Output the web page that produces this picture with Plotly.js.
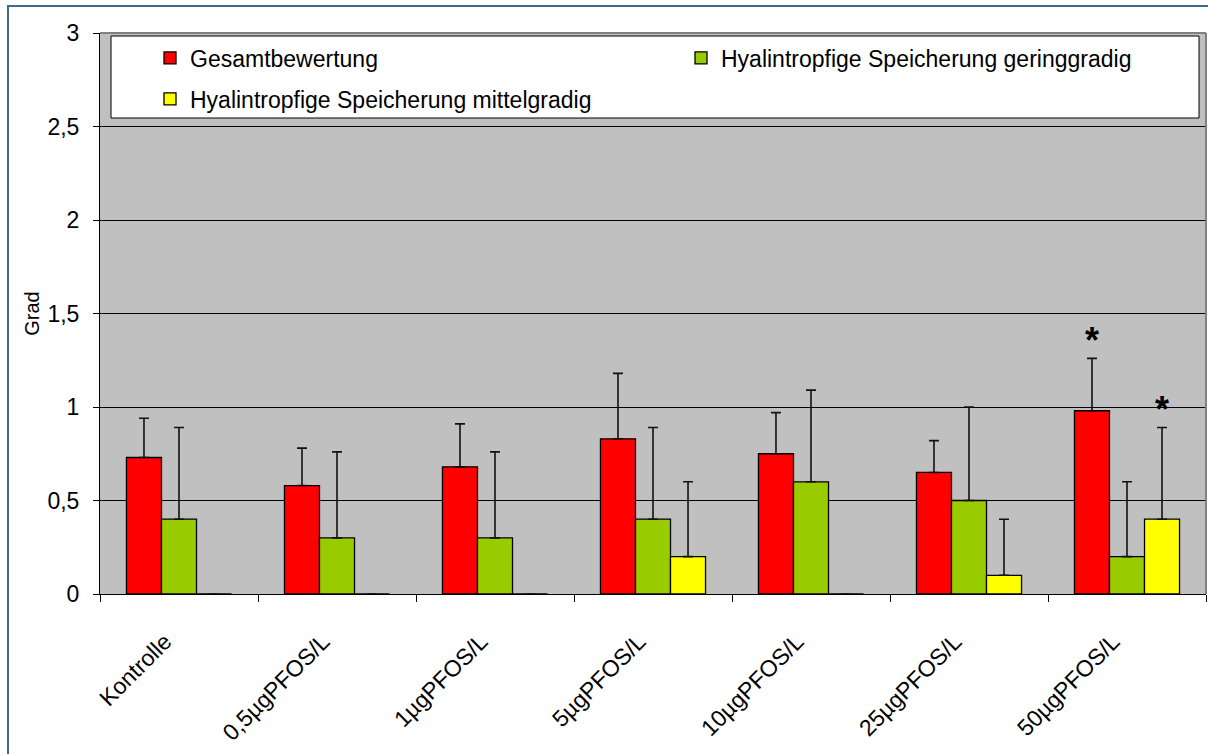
<!DOCTYPE html>
<html>
<head>
<meta charset="utf-8">
<script src="https://cdn.plot.ly/plotly-3.0.1.min.js"></script>
<style>
  html, body { margin: 0; padding: 0; background: #ffffff; }
  #chart { width: 1208px; height: 754px; }
</style>
</head>
<body>
<div id="chart"></div>
<script>
// ---- data ----
var categories = ['Kontrolle', '0,5µgPFOS/L', '1µgPFOS/L', '5µgPFOS/L', '10µgPFOS/L', '25µgPFOS/L', '50µgPFOS/L'];

var seriesNames = ['Gesamtbewertung', 'Hyalintropfige Speicherung geringgradig', 'Hyalintropfige Speicherung mittelgradig'];

var gesamt      = [0.73, 0.58, 0.68, 0.83, 0.75, 0.65, 0.98];
var gesamtTop   = [0.94, 0.78, 0.91, 1.18, 0.97, 0.82, 1.26];   // upper end of error bar

var gering      = [0.40, 0.30, 0.30, 0.40, 0.60, 0.50, 0.20];
var geringTop   = [0.89, 0.76, 0.76, 0.89, 1.09, 1.00, 0.60];

var mittel      = [0.00, 0.00, 0.00, 0.20, 0.00, 0.10, 0.40];
var mittelTop   = [0.00, 0.00, 0.00, 0.60, 0.00, 0.40, 0.89];

// significance markers per series
var gesamtSig   = ['', '', '', '', '', '', '*'];
var geringSig   = ['', '', '', '', '', '', ''];
var mittelSig   = ['', '', '', '', '', '', '*'];

var yTickVals = [0, 0.5, 1, 1.5, 2, 2.5, 3];
var yTickText = ['0', '0,5', '1', '1,5', '2', '2,5', '3'];

var colors = ['#FF0000', '#99CC00', '#FFFF00'];

// ---- build ----
function plus(vals, tops) { return vals.map(function (v, i) { return Math.max(0, tops[i] - v); }); }
function zeros(n) { var a = []; for (var i = 0; i < n; i++) a.push(0); return a; }

var valueSets = [gesamt, gering, mittel];
var topSets = [gesamtTop, geringTop, mittelTop];
var sigSets = [gesamtSig, geringSig, mittelSig];
var legendIds = ['legend', 'legend2', 'legend3'];

var FONT = 'Liberation Sans, Arial, sans-serif';

var traces = valueSets.map(function (vals, k) {
  return {
    type: 'bar',
    name: seriesNames[k],
    x: categories,
    y: vals,
    legend: legendIds[k],
    marker: { color: colors[k], line: { color: '#000000', width: 1.3 } },
    error_y: {
      type: 'data', symmetric: false,
      array: plus(vals, topSets[k]),
      arrayminus: zeros(vals.length),
      color: '#111111', thickness: 1.6, width: 5
    },
    hoverinfo: 'x+y+name'
  };
});

var barPx = 35; // pixel offset between grouped bars
var annotations = [];
sigSets.forEach(function (sig, k) {
  sig.forEach(function (s, i) {
    if (s) {
      annotations.push({
        x: categories[i], y: topSets[k][i], xref: 'x', yref: 'y',
        text: s, showarrow: false,
        xshift: (k - 1) * barPx, yshift: 18,
        xanchor: 'center', yanchor: 'middle',
        font: { family: FONT, size: 36, color: '#000000', weight: 'bold' }
      });
    }
  });
});

// pixel helpers for paper coordinates
var L = 100, R = 1206, T = 33, B = 594;
function px(x) { return (x - L) / (R - L); }
function py(y) { return (B - y) / (B - T); }

var shapes = [
  // outer frame
  { type: 'rect', xref: 'paper', yref: 'paper', x0: px(8), x1: px(1240), y0: py(790), y1: py(6),
    line: { color: '#3E6A86', width: 2 }, fillcolor: 'rgba(0,0,0,0)', layer: 'below' },
  // plot area top & right border (grey)
  { type: 'line', xref: 'paper', yref: 'paper', x0: 0, x1: 1, y0: 1, y1: 1, line: { color: '#808080', width: 2 } },
  { type: 'line', xref: 'paper', yref: 'paper', x0: 1, x1: 1, y0: 0, y1: 1, line: { color: '#808080', width: 2 } },
  // legend box
  { type: 'rect', xref: 'paper', yref: 'paper', x0: px(111), x1: px(1199), y0: py(118), y1: py(36),
    line: { color: '#000000', width: 1 }, fillcolor: '#FFFFFF', layer: 'above' }
];

var legendFont = { family: FONT, size: 23, color: '#000000' };
function legendAt(xp, yp) {
  return { x: px(xp), y: py(yp), xref: 'paper', yref: 'paper', xanchor: 'left', yanchor: 'middle',
           bgcolor: 'rgba(0,0,0,0)', borderwidth: 0, font: legendFont, orientation: 'v' };
}

var layout = {
  width: 1208, height: 754,
  margin: { l: L, r: 1208 - R, t: T, b: 754 - B, pad: 0 },
  paper_bgcolor: '#FFFFFF',
  plot_bgcolor: '#C0C0C0',
  barmode: 'group',
  bargap: 0.335,
  bargroupgap: 0,
  separators: ', ',
  font: { family: FONT, size: 23, color: '#000000' },
  showlegend: true,
  legend: legendAt(150, 58),
  legend2: legendAt(681, 58),
  legend3: legendAt(150, 99),
  xaxis: {
    type: 'category',
    tickangle: -45,
    ticks: 'outside', ticklen: 7, tickcolor: '#000000', tickwidth: 1,
    tickson: 'boundaries',
    ticklabelstandoff: 24,
    ticklabelshift: -14,
    showline: true, linecolor: '#000000', linewidth: 1,
    showgrid: false, zeroline: false,
    tickfont: { family: FONT, size: 23, color: '#000000' },
    fixedrange: true
  },
  yaxis: {
    range: [0, 3],
    tickvals: yTickVals, ticktext: yTickText,
    ticks: 'outside', ticklen: 6, tickcolor: '#000000', tickwidth: 1,
    ticklabelstandoff: 9,
    showline: true, linecolor: '#000000', linewidth: 1,
    showgrid: true, gridcolor: '#000000', gridwidth: 1,
    zeroline: false,
    tickfont: { family: FONT, size: 23, color: '#000000' },
    title: { text: 'Grad', font: { family: FONT, size: 20, color: '#000000' }, standoff: 2 },
    fixedrange: true
  },
  shapes: shapes,
  annotations: annotations
};

Plotly.newPlot('chart', traces, layout, { displayModeBar: false, staticPlot: false });
</script>
</body>
</html>
